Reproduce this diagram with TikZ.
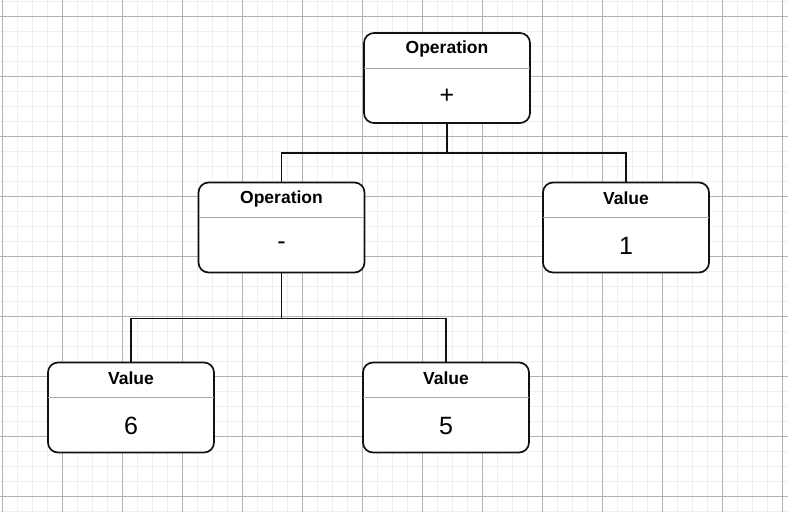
\documentclass[tikz,border=0pt]{standalone}
\usepackage{fontspec}
\setmainfont{Liberation Sans}
\usetikzlibrary{calc}
\definecolor{minorgrid}{HTML}{EFEFEF}
\definecolor{majorgrid}{HTML}{B5B1B4}
\definecolor{divgray}{HTML}{A8A8A8}
\definecolor{inkblack}{HTML}{111111}
\tikzset{
  x=1pt, y=-1pt,
  boxst/.style={draw=inkblack, line width=1.7pt, rounded corners=10pt, fill=white,
    minimum width=166pt, minimum height=90pt, inner sep=0pt},
  divline/.style={draw=divgray, line width=0.9pt},
  titlest/.style={font=\bfseries\fontsize{17.5}{20}\selectfont, inner sep=0pt},
  valst/.style={font=\fontsize{25}{28}\selectfont, inner sep=0pt},
  conn/.style={draw=inkblack, line width=1.3pt}
}
\newcommand{\tbox}[5]{%
  \node[boxst] (#1) at (#2,#3) {};
  \draw[divline] ($(#1.north west)+(1,36)$) -- ($(#1.north east)+(-1,36)$);
  \node[titlest] (#1-t) at ($(#1.north)+(0,17)$) {#4};
  \node[valst] (#1-v) at ($(#1.north)+(0,64)$) {#5};
}
\begin{document}
\begin{tikzpicture}
\useasboundingbox (0,0) rectangle (788,512);
\fill[white] (0,0) rectangle (788,512);
\foreach \x in {2,17,...,782} \draw[minorgrid, line width=1pt] (\x,0) -- (\x,512);
\foreach \y in {1,16,...,511} \draw[minorgrid, line width=1pt] (0,\y) -- (788,\y);
\foreach \x in {2,62,...,782} \draw[majorgrid, line width=0.9pt] (\x,0) -- (\x,512);
\foreach \y in {16,76,...,496} \draw[majorgrid, line width=0.9pt] (0,\y) -- (788,\y);

\tbox{top}{447}{78}{Operation}{+}
\tbox{mid}{281.5}{227.5}{Operation}{-}
\tbox{one}{626}{227.5}{Value}{1}
\tbox{six}{131}{407.5}{Value}{6}
\tbox{five}{446}{407.5}{Value}{5}

\draw[conn] (top.south) -- ++(0,29) -| (mid.north);
\draw[conn] (top.south) -- ++(0,29) -| (one.north);
\draw[conn] (mid.south) -- ++(0,45) -| (six.north);
\draw[conn] (mid.south) -- ++(0,45) -| (five.north);
\end{tikzpicture}
\end{document}
